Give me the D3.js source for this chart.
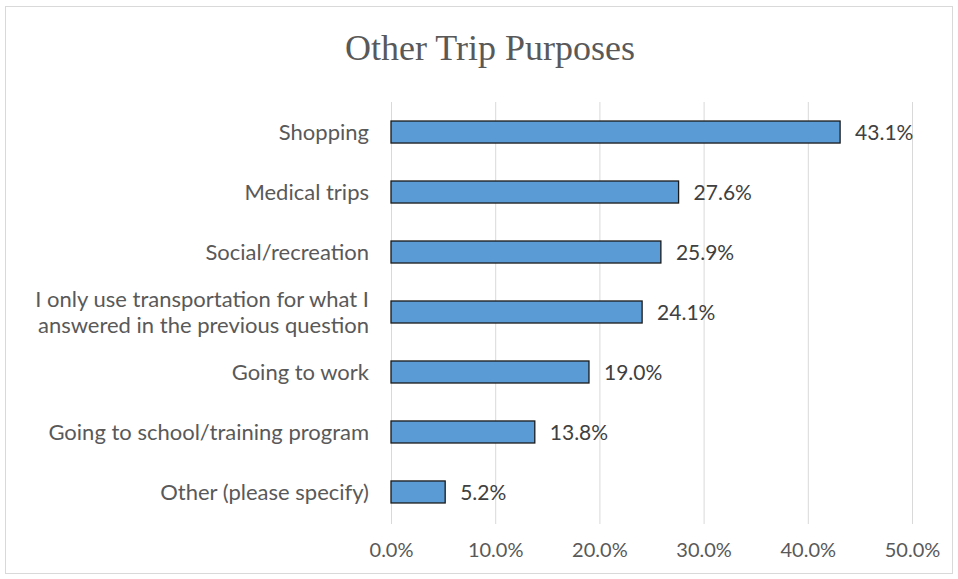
<!DOCTYPE html>
<html><head><meta charset="utf-8">
<script src="https://cdn.jsdelivr.net/npm/d3@7"></script>
<style>body{margin:0;background:#fff}</style>
</head><body>
<svg id="c" width="958" height="579"></svg>
<script>
const categories = ["Shopping","Medical trips","Social/recreation","I only use transportation for what I|answered in the previous question","Going to work","Going to school/training program","Other (please specify)"];
const values = [43.1,27.6,25.9,24.1,19.0,13.8,5.2];
const ticks = [0,10,20,30,40,50];

const svg = d3.select("#c");
svg.append("rect").attr("x",5.5).attr("y",6.5).attr("width",947).attr("height",567)
  .attr("fill","#fff").attr("stroke","#d9d9d9").attr("stroke-width",1);

svg.append("text").attr("x",490).attr("y",60).attr("text-anchor","middle")
  .attr("font-family","Liberation Serif").attr("font-size",36).attr("fill","#595959")
  .text("Other Trip Purposes");

const x = d3.scaleLinear().domain([0,50]).range([391,912]);
const y = d3.scaleBand().domain(categories).range([102,522]).paddingInner(0.633).paddingOuter(0.317);

const g = svg.append("g");
g.selectAll(".grid").data(ticks).join("line")
  .attr("x1",d=>x(d)+0.5).attr("x2",d=>x(d)+0.5).attr("y1",102).attr("y2",524)
  .attr("stroke","#d9d9d9").attr("stroke-width",1);

const ax = d3.axisBottom(x).tickValues(ticks).tickFormat(d=>d.toFixed(1)+"%").tickSize(0).tickPadding(0);
const axg = svg.append("g").attr("transform","translate(0,543)").call(ax);
axg.select(".domain").remove();
axg.selectAll("text").attr("font-family","Lato, sans-serif").attr("font-size",20).attr("fill","#595959").attr("dy","0.71em");

g.selectAll(".bar").data(values).join("rect")
  .attr("x",x(0)).attr("y",(d,i)=>y(categories[i]))
  .attr("width",d=>x(d)-x(0)).attr("height",y.bandwidth())
  .attr("fill","#5b9bd5").attr("stroke","#1a1a1a").attr("stroke-width",1.3);

g.selectAll(".val").data(values).join("text")
  .attr("x",d=>x(d)+15).attr("y",(d,i)=>y(categories[i])+y.bandwidth()/2)
  .attr("dy","0.36em").attr("font-family","Lato, sans-serif").attr("font-size",21).attr("fill","#404040")
  .text(d=>d.toFixed(1)+"%");

const lab = g.selectAll(".lab").data(categories).join("text")
  .attr("text-anchor","end").attr("font-family","Lato, sans-serif").attr("font-size",22).attr("fill","#595959")
  .attr("x",369).attr("y",d=>y(d)+y.bandwidth()/2);
lab.each(function(d){
  const parts = d.split("|");
  const t = d3.select(this);
  parts.forEach((p,k)=>{
    t.append("tspan").attr("x",369).attr("dy", k===0 ? (0.36 - (parts.length-1)*0.6)+"em" : "1.2em").text(p);
  });
});
</script>
</body></html>
